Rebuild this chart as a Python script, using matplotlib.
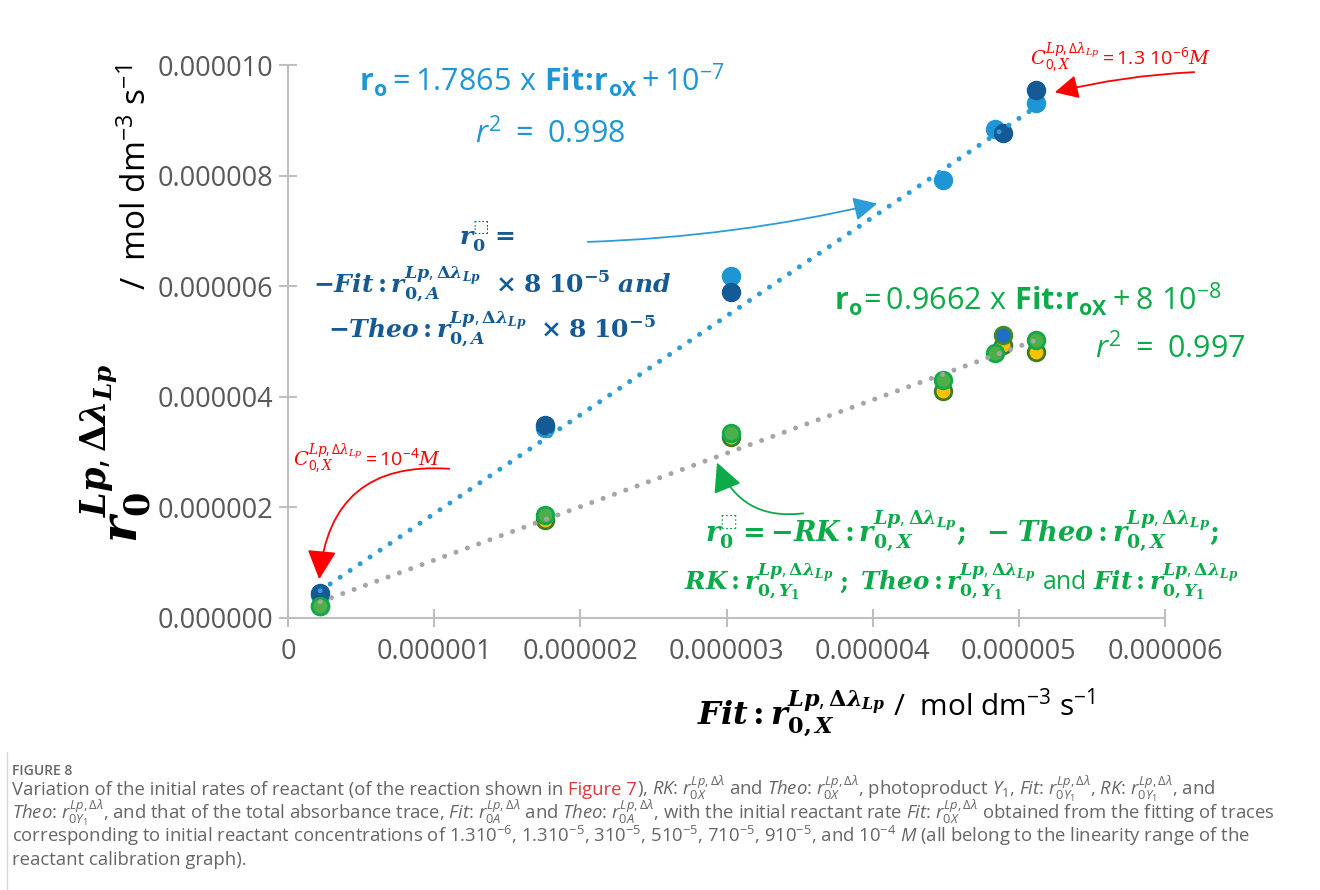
import numpy as np
import matplotlib.pyplot as plt
from matplotlib.patches import FancyArrowPatch
from matplotlib.lines import Line2D

W, H = 1320, 890

# x: Fit r0X, y: the other initial rates (in 10^-6 mol dm-3 s-1)
x_fitA = [0.22, 1.76, 3.03, 4.48, 4.84, 5.12]
y_fitA = [0.42, 3.43, 6.18, 7.92, 8.84, 9.31]
x_theoA = [0.22, 1.76, 3.03, 4.89, 5.12]
y_theoA = [0.45, 3.49, 5.90, 8.77, 9.55]

x_rkX = [0.22, 1.76, 3.03, 4.48, 4.89, 5.12]
y_rkX = [0.21, 1.77, 3.27, 4.10, 4.94, 4.81]
x_theoX = [0.22, 1.76, 3.03, 4.48, 4.84, 5.12]
y_theoX = [0.22, 1.86, 3.35, 4.30, 4.79, 5.03]
x_fitY1 = [4.89]
y_fitY1 = [5.12]

# trend lines, slope and intercept as written on the chart
fit_blue = (1.7865, 1e-7)
fit_gray = (0.9662, 8e-8)

xticks = [0, 1e-6, 2e-6, 3e-6, 4e-6, 5e-6, 6e-6]
xtick_labels = ['0', '0.000001', '0.000002', '0.000003', '0.000004', '0.000005', '0.000006']
yticks = [0, 2e-6, 4e-6, 6e-6, 8e-6, 10e-6]
ytick_labels = ['0.000000', '0.000002', '0.000004', '0.000006', '0.000008', '0.000010']

c_light = '#1E96D6'
c_dark = '#145A94'
c_green = '#0DAA4A'
c_red = '#FF0000'
c_gray = '#A5A5A5'

plt.rcParams['font.family'] = ['Open Sans', 'DejaVu Sans']
plt.rcParams['mathtext.fontset'] = 'custom'
plt.rcParams['mathtext.rm'] = 'Open Sans'
plt.rcParams['mathtext.it'] = 'Open Sans:italic'
plt.rcParams['mathtext.bf'] = 'Open Sans:bold'
plt.rcParams['mathtext.bfit'] = 'DejaVu Serif:italic:bold'
plt.rcParams['mathtext.sf'] = 'DejaVu Serif:bold'
plt.rcParams['mathtext.tt'] = 'DejaVu Serif:italic'
plt.rcParams['mathtext.cal'] = 'DejaVu Sans'

fig = plt.figure(figsize=(W / 100, H / 100), dpi=100)
ax = fig.add_axes([288 / W, 1 - 618 / H, 877 / W, 553 / H])

u = 1e-6
# markers
ax.plot(np.array(x_fitA) * u, np.array(y_fitA) * u, 'o', ms=13, color=c_light, zorder=3)
ax.plot(np.array(x_theoA) * u, np.array(y_theoA) * u, 'o', ms=13, color=c_dark, zorder=3)
ax.plot(np.array(x_rkX) * u, np.array(y_rkX) * u, 'o', ms=12, mfc='#FFC000', mec='#3B7D23', mew=2, zorder=3)
ax.plot(np.array(x_fitY1) * u, np.array(y_fitY1) * u, 'o', ms=12, mfc='#1F6FC6', mec='#3B8A2E', mew=2, zorder=3)
ax.plot(np.array(x_theoX) * u, np.array(y_theoX) * u, 'o', ms=12, mfc='#4CAF48', mec='#12A84A', mew=2, zorder=3)

# dotted trend lines
xs = np.array([min(x_fitA), max(x_fitA)]) * u
ax.plot(xs, fit_blue[0] * xs + fit_blue[1], color='#2E9BDA', lw=3.6,
        ls=(0, (0.01, 2.4)), dash_capstyle='round', zorder=4)
ax.plot(xs, fit_gray[0] * xs + fit_gray[1], color=c_gray, lw=3.6,
        ls=(0, (0.01, 2.4)), dash_capstyle='round', zorder=4)

ax.set_xlim(0, 6e-6)
ax.set_ylim(0, 1e-5)
ax.set_xticks(xticks, xtick_labels)
ax.set_yticks(yticks, ytick_labels)
for s in ['top', 'right']:
    ax.spines[s].set_visible(False)
for s in ['left', 'bottom']:
    ax.spines[s].set_color('#BFBFBF')
    ax.spines[s].set_linewidth(1.5)
ax.tick_params(direction='inout', length=13, width=1.5, color='#BFBFBF',
               labelsize=19.5, labelcolor='#595959')
ax.tick_params(axis='y', pad=4)
ax.tick_params(axis='x', pad=8)


def ftext(px, py, s, **kw):
    return fig.text(px / W, 1 - py / H, s, **kw)


def farrow(tail, head, color, rad, ms=16, lw=1.3):
    p = FancyArrowPatch((tail[0] / W, 1 - tail[1] / H), (head[0] / W, 1 - head[1] / H),
                        transform=fig.transFigure, color=color, lw=lw,
                        arrowstyle='-|>,head_length=0.9,head_width=0.45',
                        mutation_scale=ms, connectionstyle=f'arc3,rad={rad}')
    fig.add_artist(p)


sup = r'\mathbfit{Lp},\mathsf{\Delta}\mathbfit{\lambda}_{\mathbfit{Lp}}'
sup_red = r'\mathtt{Lp},\mathrm{\Delta}\mathtt{\lambda}_{\mathtt{Lp}}'

# equations
ftext(542, 91, r'$\mathbf{r}_{\mathbf{o}}=\mathrm{1.7865\ x\ }\mathbf{Fit\!:\!r}_{\mathbf{oX}}+\mathrm{10}^{-7}$',
      fontsize=22, color=c_light, ha='center', va='baseline')
ftext(550, 143, r'$\mathit{r}^{2}\ =\ \mathrm{0.998}$', fontsize=22, color=c_light, ha='center', va='baseline')
ftext(1222, 310, r'$\mathbf{r}_{\mathbf{o}}\!=\mathrm{0.9662\ x\ }\mathbf{Fit\!:\!r}_{\mathbf{oX}}+\mathrm{8\ 10}^{-8}$',
      fontsize=22, color=c_green, ha='right', va='baseline')
ftext(1245, 358, r'$\mathit{r}^{2}\ =\ \mathrm{0.997}$', fontsize=22, color=c_green, ha='right', va='baseline')

# blue block
ftext(487, 245, r'$\mathbfit{r}_{\mathsf{0}}^{\mathcal{⬚}}\mathsf{=}$', fontsize=18, color=c_dark,
      ha='center', va='baseline')
ftext(492, 293, r'$\mathsf{-}\mathbfit{Fit}\mathsf{:}\mathbfit{r}_{\mathsf{0,}\mathbfit{A}}^{' + sup +
      r'}\ \ \mathsf{\times\ 8\ 10}^{\mathsf{-5}}\ \mathbfit{and}$', fontsize=18, color=c_dark,
      ha='center', va='baseline')
ftext(492, 338, r'$\mathsf{-}\mathbfit{Theo}\mathsf{:}\mathbfit{r}_{\mathsf{0,}\mathbfit{A}}^{' + sup +
      r'}\ \ \mathsf{\times\ 8\ 10}^{\mathsf{-5}}$', fontsize=18, color=c_dark,
      ha='center', va='baseline')

# green block
ftext(705, 540, r'$\mathbfit{r}_{\mathsf{0}}^{\mathcal{⬚}}\mathsf{=-}\mathbfit{RK}\mathsf{:}\mathbfit{r}_{\mathsf{0,}\mathbfit{X}}^{' +
      sup + r'}\mathsf{;}\ \ \mathsf{-}\ \mathbfit{Theo}\mathsf{:}\mathbfit{r}_{\mathsf{0,}\mathbfit{X}}^{' + sup +
      r'}\mathsf{;}$', fontsize=19.5, color=c_green, ha='left', va='baseline')
ftext(684, 590, r'$\mathbfit{RK}\mathsf{:}\mathbfit{r}_{\mathsf{0,}\mathbfit{Y}_{\mathsf{1}}}^{' + sup +
      r'}\ \mathsf{;}\ \mathbfit{Theo}\mathsf{:}\mathbfit{r}_{\mathsf{0,}\mathbfit{Y}_{\mathsf{1}}}^{' + sup +
      r'}\ \mathrm{and}\ \mathbfit{Fit}\mathsf{:}\mathbfit{r}_{\mathsf{0,}\mathbfit{Y}_{\mathsf{1}}}^{' + sup + r'}$',
      fontsize=17.7, color=c_green, ha='left', va='baseline')

# red notes
ftext(1030, 66, r'$\mathtt{C}_{\mathrm{0,}\mathtt{X}}^{' + sup_red + r'}=\mathrm{1.3\ 10}^{-6}\mathtt{M}$',
      fontsize=14, color=c_red, ha='left', va='baseline')
ftext(293, 467, r'$\mathtt{C}_{\mathrm{0,}\mathtt{X}}^{' + sup_red + r'}=\mathrm{10}^{-4}\mathtt{M}$',
      fontsize=14, color=c_red, ha='left', va='baseline')

# arrows
farrow((1197, 72), (1052, 93), c_red, 0.05)
farrow((452, 469), (319, 582), c_red, 0.5, ms=20)
farrow((585, 242), (880, 203), '#2E9BDA', 0.05)
farrow((806, 513), (716, 460), c_green, -0.4, ms=20)

# axis titles
ftext(697, 724, r'$\mathbfit{Fit}\mathsf{:}\mathbfit{r}_{\mathsf{0,}\mathbfit{X}}^{' + sup + r'}$',
      fontsize=23, color='black', ha='left', va='baseline')
ftext(893, 716, r'/  mol dm$^{-3}$ s$^{-1}$', fontsize=21.5, color='black', ha='left', va='baseline')
ftext(137, 543, r'$\mathbfit{r}_{\mathsf{0}}^{' + sup + r'}$', fontsize=36, color='black',
      ha='left', va='baseline', rotation=90, rotation_mode='anchor')
ftext(146, 290, r'/  mol dm$^{-3}$ s$^{-1}$', fontsize=24, color='black',
      ha='left', va='baseline', rotation=90, rotation_mode='anchor')

# caption
cap_gray = '#666666'
fig.add_artist(Line2D([7 / W, 7 / W], [0, 1 - 752 / H], transform=fig.transFigure, color='#D9D9D9', lw=1))
ftext(12, 775, 'FIGURE 8', fontsize=10, color=cap_gray, fontweight='semibold', va='baseline')

renderer = fig.canvas.get_renderer()
cap_size = 13.3
line1 = [
    ('Variation of the initial rates of reactant (of the reaction shown in', cap_gray, True),
    ('Figure 7', '#E03A3A', False),
    (r'), $RK$: $r_{0X}^{Lp,\Delta\lambda}$ and $Theo$: $r_{0X}^{Lp,\Delta\lambda}$, photoproduct $Y_1$, '
     r'$Fit$: $r_{0Y_1}^{Lp,\Delta\lambda}$, $RK$: $r_{0Y_1}^{Lp,\Delta\lambda}$, and', cap_gray, False),
]
x = 12
for s, col, gap in line1:
    t = ftext(x, 795, s, fontsize=cap_size, color=col, va='baseline')
    x = t.get_window_extent(renderer).x1 + (5 if gap else 0)

ftext(12, 819, r'$Theo$: $r_{0Y_1}^{Lp,\Delta\lambda}$, and that of the total absorbance trace, '
      r'$Fit$: $r_{0A}^{Lp,\Delta\lambda}$ and $Theo$: $r_{0A}^{Lp,\Delta\lambda}$, with the initial '
      r'reactant rate $Fit$: $r_{0X}^{Lp,\Delta\lambda}$ obtained from the fitting of traces',
      fontsize=cap_size, color=cap_gray, va='baseline')
ftext(12, 842, r'corresponding to initial reactant concentrations of 1.310$^{-6}$, 1.310$^{-5}$, '
      r'310$^{-5}$, 510$^{-5}$, 710$^{-5}$, 910$^{-5}$, and 10$^{-4}$ $M$ (all belong to the '
      r'linearity range of the', fontsize=cap_size, color=cap_gray, va='baseline')
ftext(12, 865, 'reactant calibration graph).', fontsize=cap_size, color=cap_gray, va='baseline')

fig.savefig('out.png', dpi=100)
